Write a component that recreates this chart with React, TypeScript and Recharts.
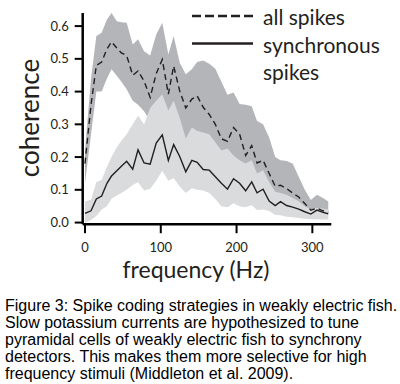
import { Area, ComposedChart, Line, XAxis, YAxis } from "recharts";

// frequency samples (Hz)
const freq = [
  0, 8, 15, 22, 29, 35, 42, 48, 55, 63, 70, 78, 86, 94, 102, 110, 117, 125, 133, 141, 148, 156,
  164, 172, 180, 188, 196, 204, 212, 220, 227, 235, 243, 251, 258, 266, 274, 282, 290, 298, 306,
  314, 321,
];

// all spikes: mean + band
const allMean = [
  0.18, 0.36, 0.48, 0.49, 0.53, 0.552, 0.533, 0.518, 0.51, 0.45, 0.463, 0.432, 0.382, 0.455, 0.498,
  0.392, 0.478, 0.402, 0.35, 0.377, 0.387, 0.352, 0.33, 0.3, 0.256, 0.248, 0.29, 0.27, 0.205, 0.235,
  0.182, 0.19, 0.15, 0.111, 0.114, 0.104, 0.09, 0.078, 0.058, 0.038, 0.044, 0.036, 0.033,
];
const allHi = [
  0.22, 0.44, 0.57, 0.58, 0.62, 0.64, 0.615, 0.612, 0.61, 0.544, 0.56, 0.523, 0.51, 0.574, 0.61,
  0.513, 0.57, 0.488, 0.453, 0.468, 0.49, 0.495, 0.485, 0.47, 0.43, 0.39, 0.397, 0.362, 0.36, 0.355,
  0.31, 0.3, 0.26, 0.2, 0.19, 0.188, 0.18, 0.14, 0.1, 0.069, 0.085, 0.075, 0.064,
];
const allLo = [
  0.12, 0.27, 0.4, 0.4, 0.44, 0.468, 0.448, 0.43, 0.407, 0.372, 0.36, 0.34, 0.31, 0.33, 0.35, 0.3,
  0.33, 0.28, 0.25, 0.27, 0.28, 0.27, 0.26, 0.24, 0.2, 0.19, 0.2, 0.18, 0.16, 0.17, 0.14, 0.14, 0.11,
  0.08, 0.08, 0.07, 0.06, 0.05, 0.04, 0.03, 0.035, 0.03, 0.03,
];

// synchronous spikes: mean + band
const syncMean = [
  0.028, 0.036, 0.072, 0.081, 0.12, 0.142, 0.158, 0.172, 0.187, 0.163, 0.222, 0.182, 0.178, 0.243,
  0.268, 0.19, 0.238, 0.202, 0.155, 0.19, 0.184, 0.162, 0.16, 0.14, 0.12, 0.102, 0.134, 0.12, 0.097,
  0.124, 0.091, 0.102, 0.066, 0.052, 0.064, 0.052, 0.047, 0.041, 0.033, 0.026, 0.038, 0.031, 0.027,
];
const syncHi = [
  0.064, 0.07, 0.124, 0.13, 0.17, 0.2, 0.23, 0.25, 0.27, 0.3, 0.326, 0.3, 0.35, 0.372, 0.392, 0.342,
  0.372, 0.32, 0.257, 0.29, 0.28, 0.275, 0.27, 0.245, 0.22, 0.226, 0.205, 0.19, 0.18, 0.19, 0.15,
  0.16, 0.124, 0.094, 0.09, 0.085, 0.075, 0.065, 0.05, 0.04, 0.045, 0.042, 0.04,
];
const syncLo = [
  0, 0.008, 0.02, 0.04, 0.05, 0.073, 0.083, 0.09, 0.1, 0.115, 0.123, 0.098, 0.103, 0.128, 0.158,
  0.128, 0.135, 0.11, 0.09, 0.105, 0.1, 0.098, 0.09, 0.072, 0.05, 0.047, 0.059, 0.05, 0.047, 0.053,
  0.038, 0.04, 0.035, 0.023, 0.022, 0.018, 0.016, 0.014, 0.012, 0.01, 0.01, 0.009, 0.009,
];

const xTicks = [0, 100, 200, 300];
const yTicks = [0, 0.1, 0.2, 0.3, 0.4, 0.5, 0.6];

const captionLines = [
  "Figure 3: Spike coding strategies in weakly electric fish.",
  "Slow potassium currents are hypothesized to tune",
  "pyramidal cells of weakly electric fish to synchrony",
  "detectors. This makes them more selective for high",
  "frequency stimuli (Middleton et al. 2009).",
];

const data = freq.map((f, i) => ({
  f,
  all: allMean[i],
  allBand: [allLo[i], allHi[i]],
  sync: syncMean[i],
  syncBand: [syncLo[i], syncHi[i]],
}));

const FONT = "Lato, 'Open Sans', sans-serif";
const tickStyle = { fontSize: 13, fill: "#231f20", fontFamily: FONT };

export default function App() {
  return (
    <div style={{ position: "relative", width: 400, height: 384, background: "#fff" }}>
      <style>{`body{margin:0}`}</style>
      <ComposedChart
        width={400}
        height={290}
        data={data}
        margin={{ top: 13, right: 68.7, bottom: 25.8, left: 32.7 }}
      >
        <XAxis
          dataKey="f"
          type="number"
          domain={[-3, 325]}
          ticks={xTicks}
          height={40}
          tickSize={9}
          tickMargin={10}
          axisLine={{ stroke: "#000", strokeWidth: 2.5 }}
          tickLine={{ stroke: "#000", strokeWidth: 2 }}
          tick={tickStyle}
        />
        <YAxis
          type="number"
          domain={[-0.005, 0.636]}
          ticks={yTicks}
          width={50}
          tickSize={8}
          tickMargin={6}
          tickFormatter={(v: number) => v.toFixed(1)}
          axisLine={{ stroke: "#000", strokeWidth: 2.5 }}
          tickLine={{ stroke: "#000", strokeWidth: 2 }}
          tick={tickStyle}
        />
        <Area
          dataKey="allBand"
          type="linear"
          stroke="none"
          fill="#b4b5b8"
          fillOpacity={1}
          isAnimationActive={false}
        />
        <Area
          dataKey="syncBand"
          type="linear"
          stroke="none"
          fill="#dadbdd"
          fillOpacity={1}
          isAnimationActive={false}
        />
        <Line
          dataKey="all"
          type="linear"
          stroke="#231f20"
          strokeWidth={1.4}
          strokeDasharray="6 4"
          dot={false}
          isAnimationActive={false}
        />
        <Line
          dataKey="sync"
          type="linear"
          stroke="#231f20"
          strokeWidth={1.4}
          dot={false}
          isAnimationActive={false}
        />
      </ComposedChart>

      <svg
        width={400}
        height={290}
        style={{ position: "absolute", left: 0, top: 0, pointerEvents: "none" }}
        fontFamily={FONT}
        fill="#231f20"
      >
        <text transform="translate(38.5,118) rotate(-90)" textAnchor="middle" fontSize={26}>
          coherence
        </text>
        <text x={196} y={278} textAnchor="middle" fontSize={23}>
          frequency (Hz)
        </text>
        <line x1={192} x2={253} y1={16} y2={16} stroke="#231f20" strokeWidth={2.5} strokeDasharray="9 4" />
        <line x1={192} x2={253} y1={43.5} y2={43.5} stroke="#231f20" strokeWidth={2.5} />
        <text x={263} y={25} fontSize={21}>all spikes</text>
        <text x={263} y={53} fontSize={21}>synchronous</text>
        <text x={263} y={80} fontSize={21}>spikes</text>
      </svg>

      <div
        style={{
          position: "absolute",
          left: 5,
          top: 297,
          fontFamily: "'Liberation Sans', Arial, sans-serif",
          fontSize: 16,
          lineHeight: "17px",
          color: "#000",
          whiteSpace: "nowrap",
        }}
      >
        {captionLines.map((l) => (
          <div key={l}>{l}</div>
        ))}
      </div>
    </div>
  );
}
